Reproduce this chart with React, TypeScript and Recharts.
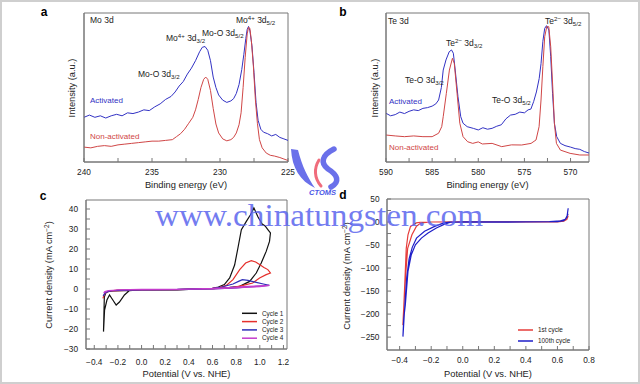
import React from 'react';
import { LineChart, Line, XAxis, YAxis, ReferenceArea } from 'recharts';

// ---- data ----

// a: Mo 3d XPS, [binding energy eV, intensity a.u.]
const MO_ACTIVATED = [
  [240, 30], [239.6, 31.5], [239.2, 30], [238.8, 31], [238.4, 29.5], [238, 31], [237.6, 32], [237.2, 31],
  [236.8, 33], [236.4, 32.5], [236, 33.5], [235.6, 35], [235.2, 34.5], [234.8, 37], [234.4, 39], [234, 42],
  [233.6, 44], [233.3, 47], [233, 51], [232.7, 54], [232.4, 59], [232.1, 63], [231.8, 68], [231.5, 74],
  [231.3, 77], [231.1, 77.5], [230.9, 75], [230.7, 68], [230.5, 57], [230.3, 50], [230.1, 45], [229.8, 41.5],
  [229.5, 40], [229.2, 41], [229, 42.5], [228.8, 46], [228.6, 52], [228.4, 62], [228.25, 72], [228.1, 83],
  [228, 89], [227.9, 91], [227.8, 88], [227.65, 78], [227.5, 60], [227.35, 40], [227.2, 28], [227, 22],
  [226.8, 20], [226.5, 19], [226.2, 17.5], [225.9, 18.5], [225.6, 16.5], [225.3, 15.5], [225, 14.5],
];
const MO_NON_ACTIVATED = [
  [240, 10], [239.5, 9.5], [239, 10.5], [238.5, 11], [238, 10.5], [237.5, 11.5], [237, 12], [236.5, 12.5],
  [236, 13], [235.5, 13.5], [235, 14], [234.5, 14], [234, 14.5], [233.5, 15], [233.2, 17], [232.9, 19],
  [232.6, 22], [232.3, 26], [232, 30], [231.8, 35], [231.6, 42], [231.4, 50], [231.2, 55.5], [231.05, 57],
  [230.9, 55.5], [230.7, 48], [230.5, 36], [230.3, 25.5], [230.1, 19.5], [229.8, 15.5], [229.5, 14.2],
  [229.2, 15], [229, 16.5], [228.8, 19.5], [228.6, 25], [228.45, 33], [228.3, 50], [228.15, 70], [228, 86],
  [227.9, 90.5], [227.8, 89.5], [227.7, 82], [227.55, 65], [227.4, 42], [227.25, 26], [227.1, 15],
  [226.9, 9.5], [226.6, 6], [226.3, 4.5], [226, 4], [225.6, 3], [225.3, 2], [225, 1],
];
const MO_X_TICKS = [240, 237.5, 235, 232.5, 230, 227.5, 225];

// b: Te 3d XPS
const TE_ACTIVATED = [
  [590, 32.7], [589.5, 31], [589, 31.8], [588.5, 33.5], [588, 32.5], [587.5, 34], [587, 35], [586.5, 34.5],
  [586, 36], [585.5, 36.5], [585, 37.5], [584.6, 39], [584.3, 41.6], [584, 50], [583.8, 61.7], [583.5, 68.5],
  [583.15, 74], [582.9, 75.2], [582.7, 73], [582.5, 61.7], [582.2, 43.8], [581.9, 30.4], [581.65, 26],
  [581.2, 23.7], [580.5, 22.5], [580, 21.5], [579.5, 23], [579, 22], [578.5, 22.6], [578, 24], [577.5, 25],
  [577, 29], [576.5, 31.5], [576, 32], [575.5, 33.5], [575, 33], [574.6, 35], [574.3, 35.5], [574, 40.5],
  [573.7, 47], [573.4, 56], [573.2, 66], [573, 81], [572.8, 89.7], [572.6, 91.5], [572.35, 88.6],
  [572.15, 70.7], [571.95, 46.1], [571.75, 26], [571.5, 17], [571.1, 12.5], [570.6, 11], [570, 10],
  [569.5, 9], [569, 8.5], [568.5, 7], [568, 6],
];
const TE_NON_ACTIVATED = [
  [590, 18.1], [589, 17.5], [588, 17], [587, 17.5], [586, 17], [585, 17], [584.3, 19.3], [583.96, 23.7],
  [583.8, 30.4], [583.46, 46.1], [583.13, 61.7], [582.8, 69.6], [582.6, 66.2], [582.3, 46.1], [582, 26],
  [581.65, 17], [581.15, 13.6], [580.6, 12.5], [580, 13.5], [579.56, 12.1], [578.5, 12.5], [577.46, 10.3],
  [576.4, 11.5], [575.3, 11.4], [574.28, 12.5], [573.74, 14.8], [573.41, 23.7], [573.2, 41.6], [573, 64],
  [572.8, 84.1], [572.58, 90.8], [572.36, 90.8], [572.15, 77.4], [571.93, 50.5], [571.75, 26],
  [571.53, 12.5], [571.1, 8], [570.05, 5.8], [569, 4.7], [568, 4.7],
];
const TE_X_TICKS = [590, 587.5, 585, 582.5, 580, 577.5, 575, 572.5, 570];

// c: cyclic voltammetry, [potential V, current density mA cm-2]
const CYCLE_1 = [
  [0.6, 0.3], [0.65, 1], [0.7, 2.2], [0.745, 5.5], [0.787, 12], [0.815, 20.5], [0.844, 29.7], [0.886, 33.8],
  [0.92, 37], [0.95, 40.5], [0.985, 36], [1.02, 32.5], [1.045, 31.5], [1.068, 29.7], [1.09, 28],
  [1.082, 23.8], [1.054, 18.8], [1.012, 13], [0.97, 8], [0.914, 3.8], [0.83, 1.3], [0.745, 0.8], [0.6, 0.2],
  [0.4, 0], [0.2, -0.5], [0, -0.5], [-0.15, -0.8], [-0.25, -1], [-0.3, -1.5], [-0.315, -4], [-0.322, -21.3],
  [-0.313, -10.5], [-0.293, -5.5], [-0.271, -3], [-0.243, -5.5], [-0.215, -8], [-0.187, -6.5],
  [-0.145, -3], [-0.103, -0.8], [0, -0.3], [0.3, -0.5], [0.6, 0.3],
];
const CYCLE_2 = [
  [0.6, 0.3], [0.66, 0.8], [0.717, 1.8], [0.773, 4.7], [0.83, 9.7], [0.88, 13], [0.928, 14.2], [0.965, 13.5],
  [0.998, 12.2], [1.035, 10.8], [1.068, 9.7], [1.09, 8], [1.054, 7.2], [0.998, 5.5], [0.94, 3], [0.858, 1.8],
  [0.77, 0.7], [0.6, 0.2], [0.3, -0.3], [0, -0.5], [-0.2, -0.8], [-0.27, -1], [-0.3, -1.8], [-0.318, -3],
  [-0.327, -4.7], [-0.31, -2], [-0.28, -1], [-0.2, -0.6], [0, -0.4], [0.3, -0.3], [0.6, 0.3],
];
const CYCLE_3 = [
  [0.6, 0.3], [0.68, 1], [0.773, 2.5], [0.82, 3.8], [0.852, 4.7], [0.9, 4.3], [0.97, 3.3], [1.03, 2.5],
  [1.08, 1.8], [1.02, 1.5], [0.97, 1.3], [0.9, 1], [0.8, 0.6], [0.7, 0.3], [0.6, 0.1], [0.3, -0.3],
  [0, -0.4], [-0.2, -0.7], [-0.27, -1], [-0.31, -2], [-0.325, -3.5], [-0.3, -1.5], [-0.25, -0.8],
  [0, -0.3], [0.3, -0.2], [0.6, 0.3],
];
const CYCLE_4 = [
  [0.6, 0.3], [0.7, 0.6], [0.8, 1], [0.9, 1.3], [1.0, 1.6], [1.08, 1.8], [1.0, 1.2], [0.9, 0.9], [0.8, 0.6],
  [0.7, 0.3], [0.6, 0.1], [0.3, -0.2], [0, -0.3], [-0.2, -0.5], [-0.28, -0.8], [-0.31, -1.3], [-0.32, -2],
  [-0.29, -1], [-0.2, -0.4], [0, -0.2], [0.3, -0.2], [0.6, 0.3],
];
const CV_NAMES = ['Cycle 1', 'Cycle 2', 'Cycle 3', 'Cycle 4'];
const C_X_TICKS = [-0.4, -0.3, -0.2, -0.1, 0, 0.1, 0.2, 0.3, 0.4, 0.5, 0.6, 0.7, 0.8, 0.9, 1.0, 1.1, 1.2];
const C_Y_TICKS = [-30, -25, -20, -15, -10, -5, 0, 5, 10, 15, 20, 25, 30, 35, 40];

// d: polarisation curves
const FIRST_CYCLE = [
  [0.668, 13.6], [0.66, 7], [0.64, 3], [0.6, 1], [0.4, 0.5], [0.2, 0.5], [0, 0.5], [-0.2, 0], [-0.27, -0.5],
  [-0.294, -2], [-0.331, -9.5], [-0.347, -27.7], [-0.358, -57], [-0.364, -107.5], [-0.373, -180],
  [-0.379, -224], [-0.376, -200], [-0.368, -150], [-0.36, -107], [-0.349, -57], [-0.322, -27.7],
  [-0.294, -9.5], [-0.265, -2], [-0.2, 0], [0, 0], [0.4, 0], [0.6, 0.5], [0.64, 2], [0.66, 6], [0.668, 13.6],
];
const HUNDREDTH_CYCLE = [
  [0.668, 30], [0.66, 10], [0.64, 3], [0.6, 1], [0.4, 0], [0.2, -0.5], [0, 0], [-0.08, 0], [-0.12, -2],
  [-0.178, -9.5], [-0.242, -20], [-0.293, -35], [-0.32, -55], [-0.34, -80], [-0.355, -120], [-0.365, -170],
  [-0.373, -215], [-0.379, -249], [-0.374, -210], [-0.364, -180], [-0.347, -107], [-0.326, -71],
  [-0.3, -49.5], [-0.262, -35], [-0.22, -24], [-0.167, -13], [-0.115, -4.5], [-0.077, -0.5], [0, 0.5],
  [0.3, 0.5], [0.55, 1], [0.62, 2.5], [0.65, 6], [0.668, 18],
];
const LSV_NAMES = ['1st cycle', '100th cycle'];
const D_X_TICKS = [-0.4, -0.3, -0.2, -0.1, 0, 0.1, 0.2, 0.3, 0.4, 0.5, 0.6, 0.7, 0.8];
const D_Y_TICKS = [-250, -225, -200, -175, -150, -125, -100, -75, -50, -25, 0, 25, 50];

// ---- styling ----
const AXIS = '#777';
const TXT = '#222';
const XPS_BLUE = '#3232c4';
const XPS_RED = '#d04646';
const CV_COLORS = ['#111111', '#e5302c', '#2e2eb8', '#c43ccc'];
const LSV_COLORS = ['#e63c3a', '#1e1ec8'];
const TICK = { fontSize: 8.3, fill: TXT };
const TITLE = 9.3;

const toPts = (arr: number[][]) => arr.map(([x, y]) => ({ x, y }));
const minus = (s: string) => s.replace('-', '\u2212');
const fmtXps = (v: number) => (v % 5 === 0 ? String(v) : '');
const fmtPot = (v: number) => (Math.round(v * 10) % 2 === 0 ? minus((Math.abs(v) < 1e-9 ? 0 : v).toFixed(1)) : '');
const fmtStep = (step: number) => (v: number) => (v % step === 0 ? minus(String(v)) : '');

type Part = [string, 'n' | 'sup' | 'sub'];

function Ann({ x, y, parts, fill = TXT, size = 8.5 }: { x: number; y: number; parts: Part[]; fill?: string; size?: number }) {
  let level = 0;
  return (
    <text x={x} y={y} fill={fill} fontSize={size}>
      {parts.map(([t, kind], i) => {
        const target = kind === 'sup' ? -3.2 : kind === 'sub' ? 2.4 : 0;
        const dy = target - level;
        level = target;
        return (
          <tspan key={i} dy={dy} fontSize={kind === 'n' ? size : size * 0.72}>
            {t}
          </tspan>
        );
      })}
    </text>
  );
}

function XpsPanel({ left, xDomain, ticks, act, non, rightMargin, leftMargin }: any) {
  return (
    <div style={{ position: 'absolute', left, top: 0 }}>
      <LineChart width={300} height={195} margin={{ top: 13, right: rightMargin, left: leftMargin, bottom: 7 }}>
        <XAxis
          type="number"
          dataKey="x"
          domain={xDomain}
          reversed
          allowDataOverflow
          ticks={ticks}
          interval={0}
          tickFormatter={fmtXps}
          tickSize={-4}
          tickMargin={11}
          tick={TICK}
          stroke={AXIS}
          height={26}
          label={{ value: 'Binding energy (eV)', position: 'insideBottom', offset: 0, fontSize: TITLE, fill: TXT }}
        />
        <YAxis type="number" domain={[0, 100]} allowDataOverflow tick={false} tickLine={false} stroke={AXIS} width={30} />
        <ReferenceArea x1={xDomain[0]} x2={xDomain[1]} y1={0} y2={100} fill="none" stroke={AXIS} />
        <Line data={toPts(act)} dataKey="y" type="linear" stroke={XPS_BLUE} strokeWidth={1} dot={false} isAnimationActive={false} />
        <Line data={toPts(non)} dataKey="y" type="linear" stroke={XPS_RED} strokeWidth={1} dot={false} isAnimationActive={false} />
      </LineChart>
    </div>
  );
}

export default function App() {
  const cvSeries = [CYCLE_1, CYCLE_2, CYCLE_3, CYCLE_4];
  const lsvSeries = [FIRST_CYCLE, HUNDREDTH_CYCLE];
  return (
    <div
      style={{
        position: 'absolute',
        left: 0,
        top: 0,
        width: 640,
        height: 384,
        background: '#fff',
        overflow: 'hidden',
        fontFamily: '"Liberation Sans", Arial, sans-serif',
      }}
    >
      <XpsPanel left={0} xDomain={[225, 240]} ticks={MO_X_TICKS} act={MO_ACTIVATED} non={MO_NON_ACTIVATED} leftMargin={54} rightMargin={12} />
      <XpsPanel left={300} xDomain={[568, 590]} ticks={TE_X_TICKS} act={TE_ACTIVATED} non={TE_NON_ACTIVATED} leftMargin={56} rightMargin={11} />

      {/* c */}
      <div style={{ position: 'absolute', left: 0, top: 190 }}>
        <LineChart width={310} height={194} margin={{ top: 10, right: 23, left: 46, bottom: 7 }}>
          <XAxis
            type="number"
            dataKey="x"
            domain={[-0.47, 1.23]}
            allowDataOverflow
            ticks={C_X_TICKS}
            interval={0}
            tickFormatter={fmtPot}
            tickSize={-4}
            tickMargin={14}
            tick={TICK}
            stroke={AXIS}
            height={28}
            label={{ value: 'Potential (V vs. NHE)', position: 'insideBottom', offset: 0, fontSize: TITLE, fill: TXT }}
          />
          <YAxis
            type="number"
            domain={[-30, 44.5]}
            allowDataOverflow
            ticks={C_Y_TICKS}
            interval={0}
            tickFormatter={fmtStep(10)}
            tickSize={-4}
            tickMargin={12}
            tick={TICK}
            stroke={AXIS}
            width={40}
          />
          <ReferenceArea x1={-0.47} x2={1.23} y1={-30} y2={44.5} fill="none" stroke={AXIS} />
          {cvSeries.map((s, i) => (
            <Line key={CV_NAMES[i]} name={CV_NAMES[i]} data={toPts(s)} dataKey="y" type="linear" stroke={CV_COLORS[i]} strokeWidth={1.2} dot={false} isAnimationActive={false} />
          ))}
        </LineChart>
      </div>

      {/* d */}
      <div style={{ position: 'absolute', left: 320, top: 190 }}>
        <LineChart width={320} height={194} margin={{ top: 9, right: 51, left: 27, bottom: 7 }}>
          <XAxis
            type="number"
            dataKey="x"
            domain={[-0.48, 0.8]}
            allowDataOverflow
            ticks={D_X_TICKS}
            interval={0}
            tickFormatter={fmtPot}
            tickSize={-4}
            tickMargin={11}
            tick={TICK}
            stroke={AXIS}
            height={27}
            label={{ value: 'Potential (V vs. NHE)', position: 'insideBottom', offset: 0, fontSize: TITLE, fill: TXT }}
          />
          <YAxis
            type="number"
            domain={[-278, 50]}
            allowDataOverflow
            ticks={D_Y_TICKS}
            interval={0}
            tickFormatter={fmtStep(50)}
            tickSize={-4}
            tickMargin={11.5}
            tick={TICK}
            stroke={AXIS}
            width={40}
          />
          <ReferenceArea x1={-0.48} x2={0.8} y1={-278} y2={50} fill="none" stroke={AXIS} />
          {lsvSeries.map((s, i) => (
            <Line key={LSV_NAMES[i]} name={LSV_NAMES[i]} data={toPts(s)} dataKey="y" type="linear" stroke={LSV_COLORS[i]} strokeWidth={1.2} dot={false} isAnimationActive={false} />
          ))}
        </LineChart>
      </div>

      {/* overlay: panel letters, titles, annotations, legends, watermark */}
      <svg width={640} height={384} style={{ position: 'absolute', left: 0, top: 0, pointerEvents: 'none' }}>
        <g fontWeight="bold" fontSize={12} fill="#000" textAnchor="middle">
          <text x={44} y={16}>a</text>
          <text x={343} y={16}>b</text>
          <text x={43} y={200}>c</text>
          <text x={343} y={199}>d</text>
        </g>

        <g fontSize={TITLE} fill={TXT} textAnchor="middle">
          <text transform="translate(72,88) rotate(-90)" dy={3}>Intensity (a.u.)</text>
          <text transform="translate(375,88) rotate(-90)" dy={3}>Intensity (a.u.)</text>
          <text transform="translate(49,275) rotate(-90)" dy={3}>
            Current density (mA cm<tspan dy={-3} fontSize={6.5}>{'\u22122'}</tspan><tspan dy={3}>)</tspan>
          </text>
          <text transform="translate(347,276) rotate(-90)" dy={3}>
            Current density (mA cm<tspan dy={-3} fontSize={6.5}>{'\u22122'}</tspan><tspan dy={3}>)</tspan>
          </text>
        </g>

        {/* a annotations */}
        <Ann x={90} y={23} parts={[['Mo 3d', 'n']]} />
        <Ann x={166} y={41} parts={[['Mo', 'n'], ['4+', 'sup'], [' 3d', 'n'], ['3/2', 'sub']]} />
        <Ann x={202} y={36} parts={[['Mo-O 3d', 'n'], ['5/2', 'sub']]} />
        <Ann x={236} y={23} parts={[['Mo', 'n'], ['4+', 'sup'], [' 3d', 'n'], ['5/2', 'sub']]} />
        <Ann x={138} y={77} parts={[['Mo-O 3d', 'n'], ['3/2', 'sub']]} />
        <Ann x={90} y={103} parts={[['Activated', 'n']]} fill={XPS_BLUE} size={8} />
        <Ann x={90} y={139} parts={[['Non-activated', 'n']]} fill={XPS_RED} size={8} />

        {/* b annotations */}
        <Ann x={388} y={24} parts={[['Te 3d', 'n']]} />
        <Ann x={446} y={46} parts={[['Te', 'n'], ['2\u2212', 'sup'], [' 3d', 'n'], ['3/2', 'sub']]} />
        <Ann x={545} y={24} parts={[['Te', 'n'], ['2\u2212', 'sup'], [' 3d', 'n'], ['5/2', 'sub']]} />
        <Ann x={405} y={83} parts={[['Te-O 3d', 'n'], ['3/2', 'sub']]} />
        <Ann x={492} y={103} parts={[['Te-O 3d', 'n'], ['5/2', 'sub']]} />
        <Ann x={389} y={104} parts={[['Activated', 'n']]} fill={XPS_BLUE} size={8} />
        <Ann x={389} y={150} parts={[['Non-activated', 'n']]} fill={XPS_RED} size={8} />

        {/* c legend */}
        {CV_NAMES.map((n, i) => (
          <g key={n}>
            <line x1={242} x2={257} y1={313.3 + i * 8.3} y2={313.3 + i * 8.3} stroke={CV_COLORS[i]} strokeWidth={1.5} />
            <text x={262} y={315.5 + i * 8.3} fontSize={6.4} fill={TXT}>{n}</text>
          </g>
        ))}
        {/* d legend */}
        {LSV_NAMES.map((n, i) => (
          <g key={n}>
            <line x1={518} x2={533} y1={330 + i * 11} y2={330 + i * 11} stroke={LSV_COLORS[i]} strokeWidth={1.5} />
            <text x={538} y={332.2 + i * 11} fontSize={6.4} fill={TXT}>{n}</text>
          </g>
        ))}

        {/* watermark logo */}
        <path d="M291 149 C292 168 300 181 315 188 C308 178 302 166 298 150 Z" fill="#6a70ea" />
        <path d="M319 160 C314 168 314 178 321 186" stroke="#f06c7c" strokeWidth={3} fill="none" strokeLinecap="round" />
        <path d="M334 149 C322 155 320 163 328 169 C338 175 340 182 331 187" stroke="#6a70ea" strokeWidth={5.5} fill="none" strokeLinecap="round" />
        <text x={309} y={195} fontSize={7} fontWeight="bold" fontStyle="italic" fill="#4a58e6" textLength={27} lengthAdjust="spacingAndGlyphs">
          CTOMS
        </text>
        <text
          x={155}
          y={226}
          fontFamily='"Liberation Serif", "Times New Roman", serif'
          fontSize={31}
          textLength={328}
          lengthAdjust="spacingAndGlyphs"
          fill="#5b66ee"
          opacity={0.85}
        >
          www.chinatungsten.com
        </text>
      </svg>

      <div style={{ position: 'absolute', inset: 0, border: '2px solid #cfcfcf', boxSizing: 'border-box', pointerEvents: 'none' }} />
    </div>
  );
}
